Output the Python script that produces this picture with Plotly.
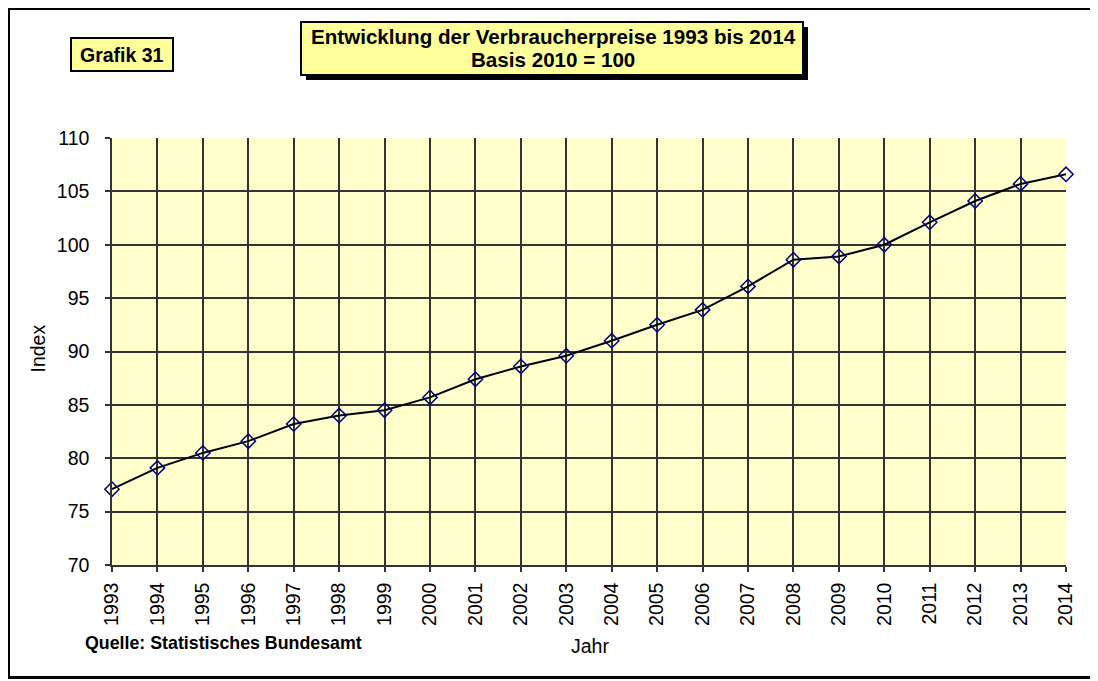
import plotly.graph_objects as go

years = list(range(1993, 2015))
index_values = [77.1, 79.1, 80.5, 81.6, 83.2, 84.0, 84.5, 85.7, 87.4, 88.6, 89.6,
                91.0, 92.5, 93.9, 96.1, 98.6, 98.9, 100.0, 102.1, 104.1, 105.7, 106.6]
y_ticks = [70, 75, 80, 85, 90, 95, 100, 105, 110]

W, H = 1098, 681
OFF = 8  # page body margin
L, T = 112 - OFF, 138 - OFF
PW, PH = 954, 427
R = W - L - PW
B = H - T - PH

def px(x):  # page pixel -> paper x
    return (x - OFF - L) / PW

def py(y):  # page pixel -> paper y
    return (T + PH - (y - OFF)) / PH

FONT = "Arial, Liberation Sans, sans-serif"
GRID = "#333333"

fig = go.Figure()
fig.add_trace(go.Scatter(
    x=years, y=index_values, mode="lines+markers",
    line=dict(color="black", width=2),
    marker=dict(symbol="diamond-open", size=11, color="#000080", line=dict(width=1.5, color="#000080")),
    cliponaxis=False, showlegend=False,
))

shapes = [
    # outer frame
    dict(type="rect", xref="paper", yref="paper", x0=px(8.5), x1=px(1095), y0=py(8.5), y1=py(677.5),
         line=dict(color="black", width=3), fillcolor="rgba(0,0,0,0)", layer="below"),
    # title shadow
    dict(type="rect", xref="paper", yref="paper", x0=px(306), x1=px(808), y0=py(27), y1=py(80),
         line=dict(width=0), fillcolor="black", layer="above"),
    # title box
    dict(type="rect", xref="paper", yref="paper", x0=px(301), x1=px(803), y0=py(22), y1=py(75),
         line=dict(color="black", width=2), fillcolor="#FFFF99", layer="above"),
    # Grafik 31 box
    dict(type="rect", xref="paper", yref="paper", x0=px(71), x1=px(173), y0=py(38), y1=py(71),
         line=dict(color="black", width=2), fillcolor="#FFFF99", layer="above"),
]

def ann(text, x, y, size, xanchor="center", angle=0):
    return dict(text=text, xref="paper", yref="paper", x=px(x), y=py(y), xanchor=xanchor,
                yanchor="middle", showarrow=False, textangle=angle,
                font=dict(family=FONT, size=size, color="black"))

annotations = [
    ann("<b>Entwicklung der Verbraucherpreise 1993 bis 2014</b>", 553, 37, 20.6),
    ann("<b>Basis 2010 = 100</b>", 553, 59, 20.6),
    ann("<b>Grafik 31</b>", 122, 55, 19.5),
    ann("<b>Quelle: Statistisches Bundesamt</b>", 83, 643, 17.8, xanchor="left"),
    ann("Index", 37.5, 349, 19.5, angle=-90),
    ann("Jahr", 590, 646, 19.5),
]

fig.update_layout(
    width=W, height=H,
    margin=dict(l=L, r=R, t=T, b=B),
    paper_bgcolor="white",
    plot_bgcolor="#FFFFCC",
    shapes=shapes,
    annotations=annotations,
    font=dict(family=FONT, size=19.5, color="black"),
    xaxis=dict(
        range=[1993, 2014], tickmode="array", tickvals=years, ticktext=[str(y) for y in years],
        tickangle=-90, showgrid=True, gridcolor=GRID, gridwidth=1.5,
        ticks="outside", ticklen=5, tickcolor=GRID, tickwidth=1.5,
        showline=True, linecolor=GRID, linewidth=1.5, zeroline=False,
        tickfont=dict(family=FONT, size=19.5), ticklabelstandoff=3,
    ),
    yaxis=dict(
        range=[70, 110], tickmode="array", tickvals=y_ticks,
        showgrid=True, gridcolor=GRID, gridwidth=1.5,
        ticks="outside", ticklen=5, tickcolor=GRID, tickwidth=1.5,
        showline=True, linecolor=GRID, linewidth=1.5, zeroline=False,
        tickfont=dict(family=FONT, size=19.5), ticklabelstandoff=12,
    ),
)

fig.write_html("out.html")
